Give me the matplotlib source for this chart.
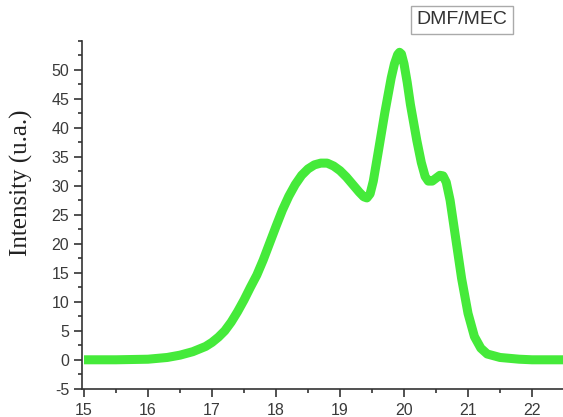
import matplotlib
matplotlib.use("Agg")
import matplotlib.pyplot as plt
from matplotlib.ticker import MultipleLocator

plt.rcParams["axes.unicode_minus"] = False

# Data
x_vals = [15.0, 15.5, 16.0, 16.3, 16.5, 16.7, 16.9, 17.0, 17.1, 17.2, 17.3, 17.4,
          17.5, 17.6, 17.7, 17.8, 17.9, 18.0, 18.1, 18.2, 18.3, 18.4, 18.5, 18.6,
          18.7, 18.8, 18.9, 19.0, 19.1, 19.2, 19.3, 19.37, 19.42, 19.47, 19.52,
          19.6, 19.7, 19.8, 19.85, 19.9, 19.93, 19.96, 20.0, 20.05, 20.1, 20.2,
          20.27, 20.33, 20.38, 20.44, 20.5, 20.56, 20.61, 20.66, 20.72, 20.8, 20.9,
          21.0, 21.1, 21.2, 21.3, 21.5, 21.8, 22.0, 22.5]
intensity = [0.0, 0.0, 0.1, 0.4, 0.8, 1.4, 2.3, 3.0, 3.9, 5.0, 6.5, 8.3,
             10.3, 12.5, 14.6, 17.2, 20.1, 23.0, 25.8, 28.2, 30.2, 31.8, 32.9, 33.6,
             33.9, 33.9, 33.4, 32.6, 31.5, 30.2, 28.9, 28.1, 27.9, 28.6, 30.8,
             36.0, 42.6, 48.6, 51.0, 52.6, 53.0, 52.7, 51.0, 47.8, 44.0, 37.8,
             34.0, 31.6, 30.8, 30.8, 31.3, 31.8, 31.7, 30.6, 27.5, 21.5, 14.0,
             8.0, 4.0, 2.0, 1.0, 0.4, 0.1, 0.0, 0.0]
series_label = "DMF/MEC"
y_label = "Intensity (u.a.)"
x_ticks = [15, 16, 17, 18, 19, 20, 21, 22]
y_ticks = [-5, 0, 5, 10, 15, 20, 25, 30, 35, 40, 45, 50]

W, H = 563, 417
fig = plt.figure(figsize=(W / 100, H / 100), dpi=100)
ax = fig.add_axes([81.7 / W, (H - 388.8) / H, (W - 81.7) / W, (388.8 - 40.7) / H])

ax.plot(x_vals, intensity, color="#45ea3a", linewidth=6.5,
        solid_capstyle="butt", solid_joinstyle="round")

ax.set_xlim(14.964, 22.484)
ax.set_ylim(-5, 55)
ax.set_xticks(x_ticks)
ax.set_yticks(y_ticks)
ax.xaxis.set_minor_locator(MultipleLocator(0.5))
ax.yaxis.set_minor_locator(MultipleLocator(2.5))

for side in ("top", "right"):
    ax.spines[side].set_visible(False)
for side in ("left", "bottom"):
    ax.spines[side].set_color("#333333")
    ax.spines[side].set_linewidth(1.2)

ax.tick_params(which="major", direction="out", length=6, width=1.2,
               color="#333333", labelsize=11.5, labelcolor="#3a3a3a")
ax.tick_params(axis="y", which="major", pad=3)
ax.tick_params(axis="x", which="major", pad=4)
ax.tick_params(which="minor", direction="out", length=3, width=1.2, color="#333333")
for lab in ax.get_xticklabels() + ax.get_yticklabels():
    lab.set_family("Liberation Sans")

ax.set_ylabel(y_label, family="Liberation Serif", fontsize=18, color="#222222")
ax.yaxis.set_label_coords(-(81.7 - 33) / (W - 81.7), (388.8 - 183) / (388.8 - 40.7))

fig.text(462 / W, 1 - 20 / H, series_label, family="Liberation Sans",
         fontsize=14, color="#333333", ha="center", va="center",
         bbox=dict(boxstyle="square,pad=0.3", facecolor="white",
                   edgecolor="#aaaaaa", linewidth=1.0))

fig.savefig("out.png", dpi=100)
